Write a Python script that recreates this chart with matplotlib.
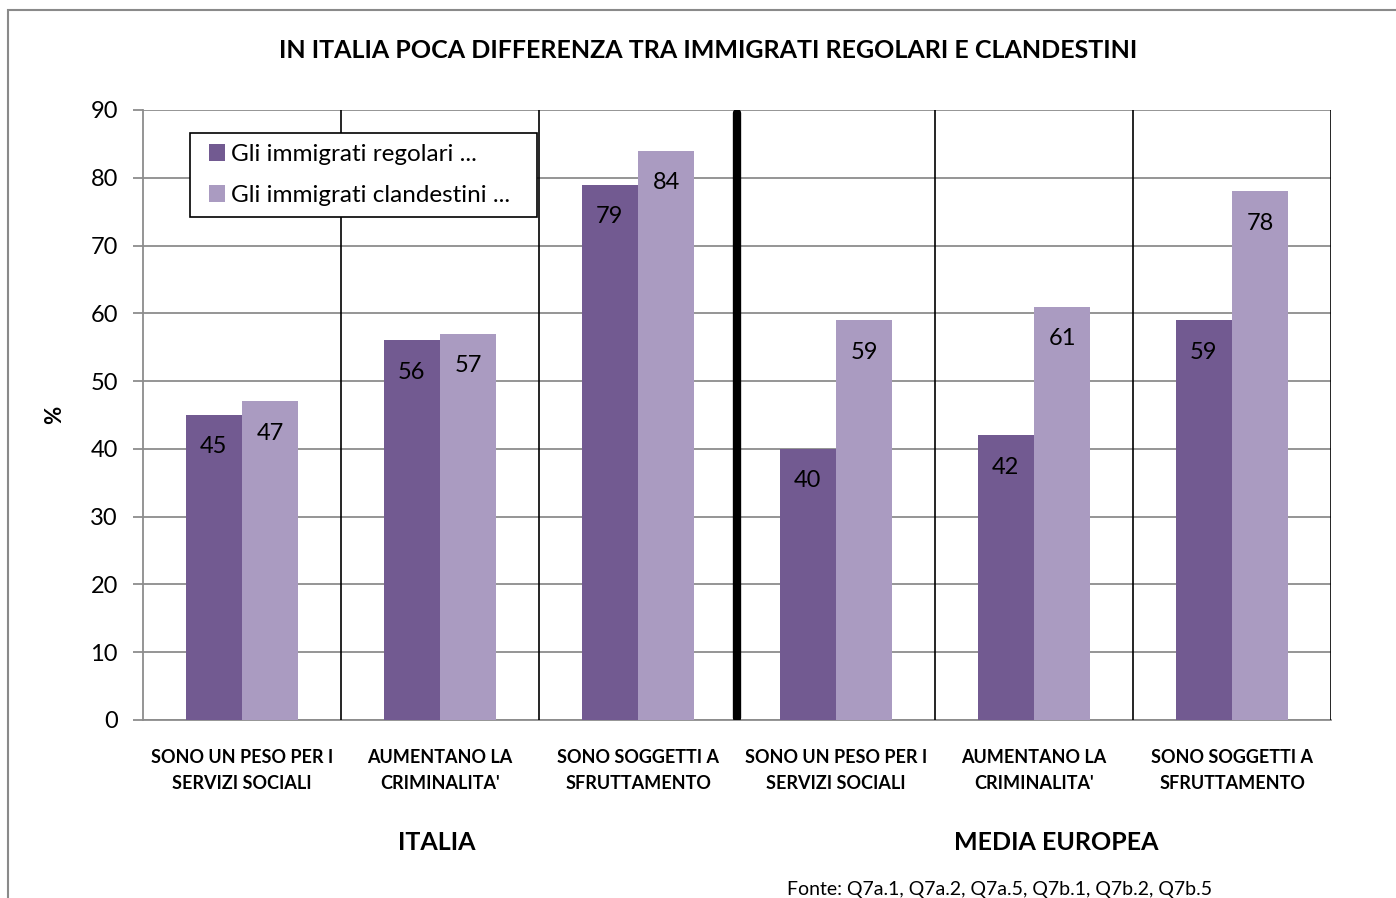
import numpy as np
import matplotlib; matplotlib.use("Agg")
import matplotlib.pyplot as plt
from matplotlib.patches import Rectangle

plt.rcParams['font.family'] = ['Lato', 'DejaVu Sans']

# --- dati ---
categories = ["SONO UN PESO PER I\nSERVIZI SOCIALI", "AUMENTANO LA\nCRIMINALITA'",
              "SONO SOGGETTI A\nSFRUTTAMENTO", "SONO UN PESO PER I\nSERVIZI SOCIALI",
              "AUMENTANO LA\nCRIMINALITA'", "SONO SOGGETTI A\nSFRUTTAMENTO"]
regolari = [45, 56, 79, 40, 42, 59]
clandestini = [47, 57, 84, 59, 61, 78]
series_names = ["Gli immigrati regolari ...", "Gli immigrati clandestini ..."]
groups = ["ITALIA", "MEDIA EUROPEA"]
yticks = list(range(0, 100, 10))

C_REG = "#725a91"
C_CLA = "#aa9bc1"
GRID = "#8c8c8c"

fig = plt.figure(figsize=(13.96, 8.98), dpi=100)
fig.patch.set_facecolor("white")
# cornice esterna (tagliata a destra e in basso)
fig.add_artist(Rectangle((8/1396, -0.05), 1.2, (898-10)/898 + 0.05, transform=fig.transFigure,
                         fill=False, ec="#8a8a8a", lw=1.5))

ax = fig.add_axes([143/1396, (898-720)/898, 1188/1396, 610/898])
x = np.arange(len(categories))
w = 0.285
b1 = ax.bar(x - w/2, regolari, w, color=C_REG, label=series_names[0], zorder=3)
b2 = ax.bar(x + w/2, clandestini, w, color=C_CLA, label=series_names[1], zorder=3)

for bars, vals in ((b1, regolari), (b2, clandestini)):
    for r, v in zip(bars, vals):
        ax.annotate(str(v), (r.get_x() + r.get_width()/2, v), xytext=(0, -23),
                    textcoords="offset points", ha="center", va="center",
                    fontsize=17, color="black", zorder=5)

ax.set_xlim(-0.5, 5.5)
ax.set_ylim(0, 90)
ax.set_yticks(yticks)
ax.yaxis.grid(True, color=GRID, lw=1.3, zorder=0)
ax.set_axisbelow(True)
ax.tick_params(axis="y", length=7, width=1.3, color=GRID, labelsize=17, pad=11)
ax.set_xticks(x)
ax.set_xticklabels(categories, fontsize=13, fontweight="bold", linespacing=1.6)
ax.tick_params(axis="x", length=0, pad=21)
for s in ("top", "right"):
    ax.spines[s].set_visible(False)
for s in ("left", "bottom"):
    ax.spines[s].set_color(GRID)
    ax.spines[s].set_linewidth(1.3)

# separatori tra categorie
for b in (0.5, 1.5, 3.5, 4.5, 5.5):
    ax.axvline(b, color="black", lw=1.2, zorder=4)
ax.plot([2.5, 2.5], [0.3, 89.5], color="black", lw=6, solid_capstyle="round", zorder=4)

ax.set_ylabel("%", fontsize=16, fontweight="bold")
ax.yaxis.set_label_coords(-78/1188, 0.5)

# riquadro legenda (più largo del testo, come nell'originale)
ax.add_patch(Rectangle((47/1188, (720-217)/610), 347/1188, 84/610, transform=ax.transAxes,
                       fc="white", ec="black", lw=1.2, zorder=6))
leg = ax.legend(loc="upper left", bbox_to_anchor=(66/1188, (720-144)/610), fontsize=17.5,
                frameon=False, handlelength=0.65, handleheight=0.65, handletextpad=0.25,
                borderpad=0, labelspacing=0.82, borderaxespad=0)
leg.set_zorder(7)

ax.text(0.985, -0.2, groups[0], transform=ax.get_xaxis_transform(), ha="center", va="center",
        fontsize=18, fontweight="bold")
ax.text(4.11, -0.2, groups[1], transform=ax.get_xaxis_transform(), ha="center", va="center",
        fontsize=18, fontweight="bold")

fig.text(708/1396, 1 - 50/898, "IN ITALIA POCA DIFFERENZA TRA IMMIGRATI REGOLARI E CLANDESTINI",
         ha="center", va="center", fontsize=18, fontweight="bold")
fig.text(787/1396, 1 - 889/898, "Fonte: Q7a.1, Q7a.2, Q7a.5, Q7b.1, Q7b.2, Q7b.5",
         ha="left", va="center", fontsize=14)

fig.savefig("out.png", dpi=100, facecolor="white")
